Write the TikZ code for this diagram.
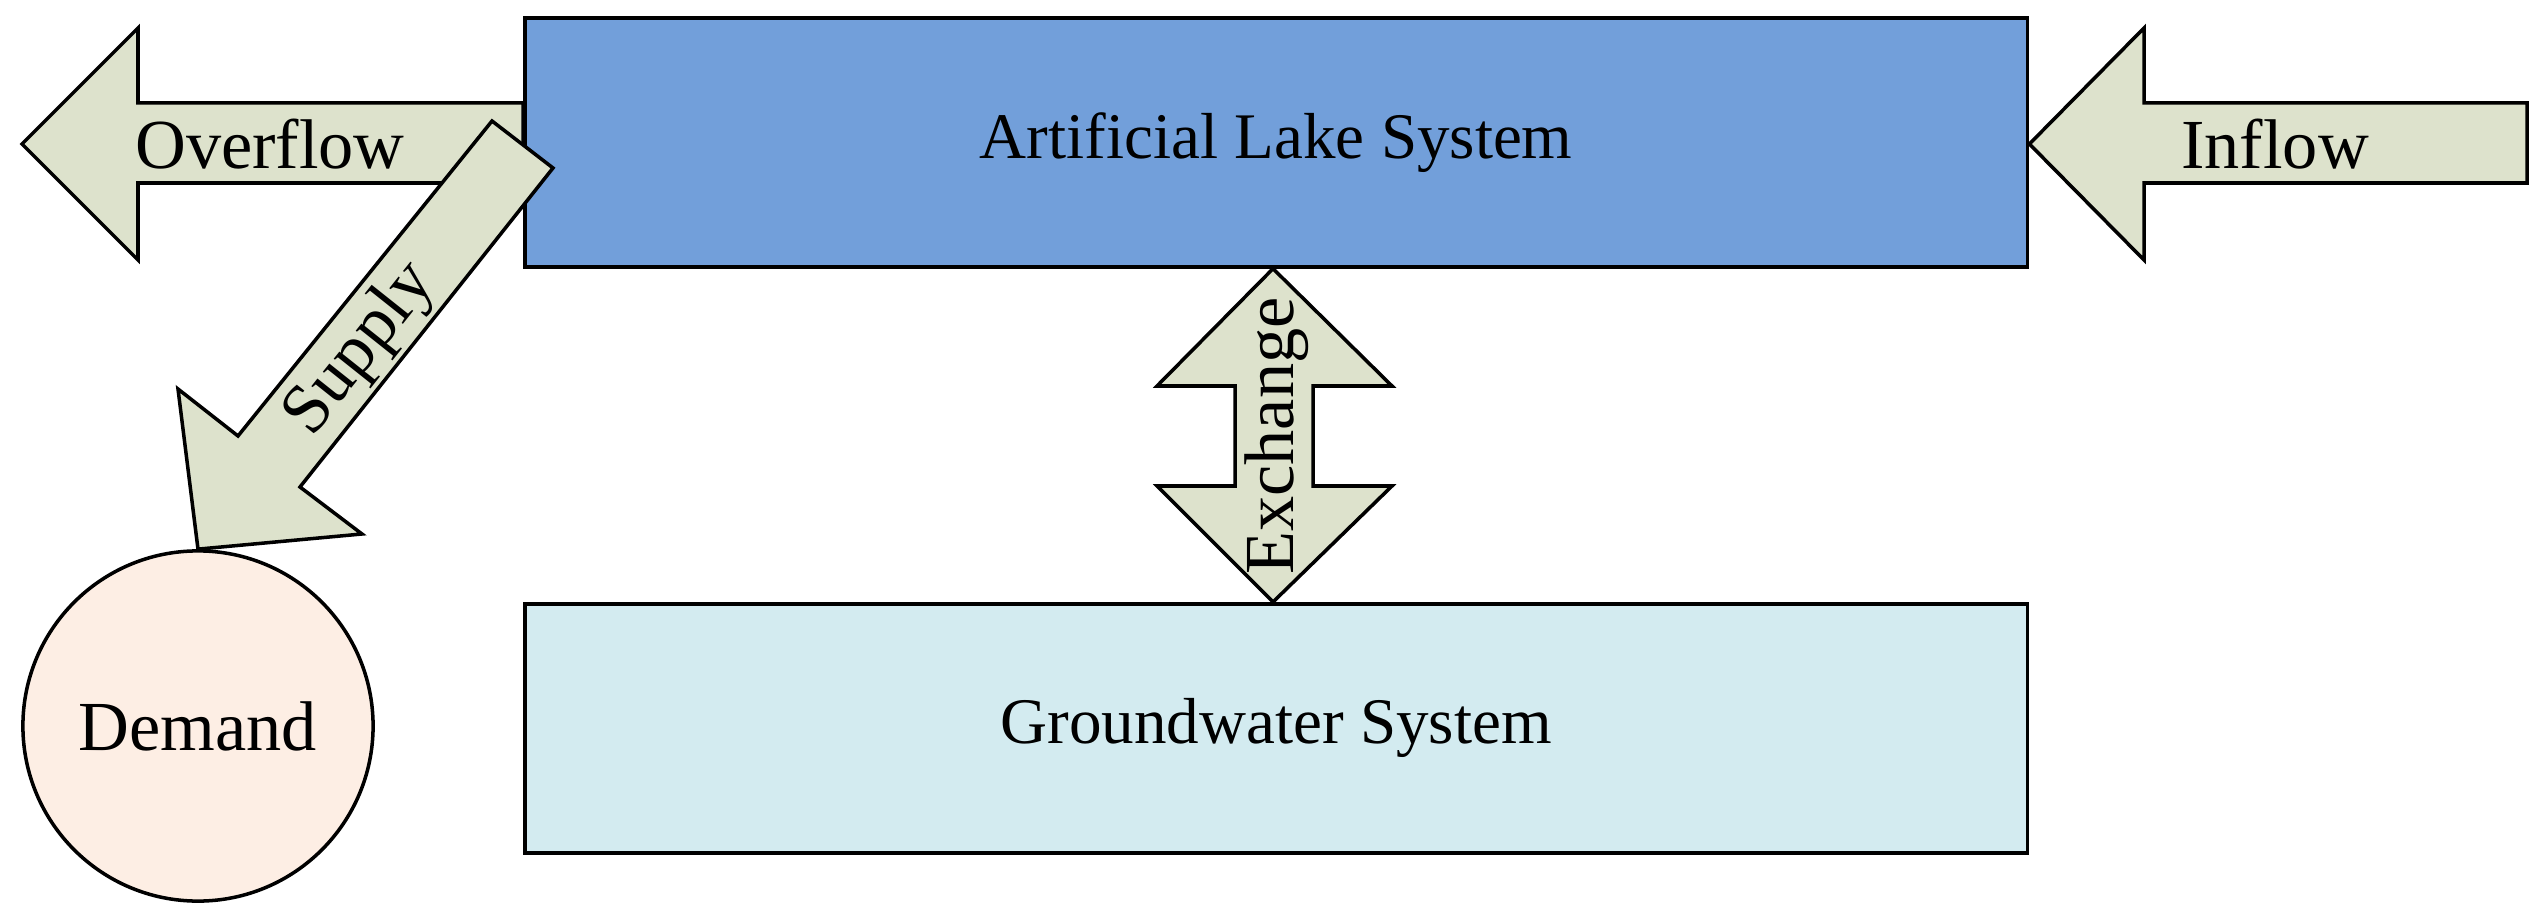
\documentclass[tikz,border=0pt]{standalone}
\usepackage{fontspec}
\setmainfont{Liberation Serif}
\usetikzlibrary{positioning}
\definecolor{lakeblue}{HTML}{729FDA}
\definecolor{groundblue}{HTML}{D3EBF0}
\definecolor{demandpink}{HTML}{FDEEE4}
\definecolor{flowgreen}{HTML}{DDE2CC}
\tikzset{
  sysbox/.style={draw, line width=1pt, minimum width=15.02cm, minimum height=2.49cm, font=\fontsize{18.5}{22}\selectfont},
  flowarrow/.style={draw, line width=1pt, fill=flowgreen, line join=miter},
  flowlabel/.style={font=\fontsize{20}{24}\selectfont, inner sep=0pt}
}
\begin{document}
\begin{tikzpicture}[x=0.01cm, y=-0.01cm]
  \useasboundingbox (0,0) rectangle (2546,919);
  \node (lake) [sysbox, fill=lakeblue, anchor=north west] at (523,16) {Artificial Lake System};
  \node (ground) [sysbox, fill=groundblue, anchor=north west] at (523,602) {Groundwater System};
  \node (demand) [draw, circle, line width=1pt, fill=demandpink, minimum size=3.5cm, font=\fontsize{20}{24}\selectfont] at (198,726) {Demand};

  % overflow, inflow
  \draw[flowarrow] (lake.west |- 0,103) -- (138,103) -- (138,28) -- (22,144) -- (138,260) -- (138,183) -- (lake.west |- 0,183) -- cycle;
  \node[flowlabel] (overflow) at (270,144) {Overflow};
  \draw[flowarrow] (2527,103) -- (2144,103) -- (2144,28) -- (lake.east |- 0,144) -- (2144,260) -- (2144,183) -- (2527,183) -- cycle;
  \node[flowlabel] (inflow) at (2275,144) {Inflow};

  % supply
  \draw[flowarrow] (492,121) -- (553,168) -- (300,487) -- (362,534) -- (demand.north) -- (178,389) -- (238,436) -- cycle;
  \node[flowlabel, rotate=51.5] (supply) at (361,350) {Supply};

  % exchange
  \draw[flowarrow] (lake.south -| 1273,0) -- (1392,386) -- (1313,386) -- (1313,486) -- (1392,486) -- (ground.north -| 1273,0)
    -- (1157,486) -- (1235,486) -- (1235,386) -- (1157,386) -- cycle;
  \node[flowlabel, rotate=90] (exchange) at (1277,436) {Exchange};
\end{tikzpicture}
\end{document}
